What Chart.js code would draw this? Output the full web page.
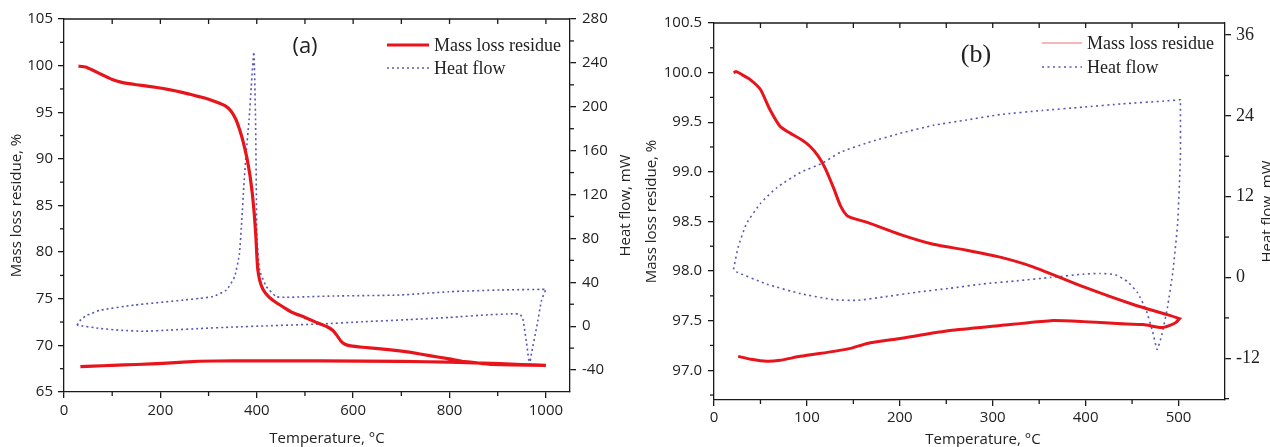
<!DOCTYPE html>
<html lang="en">
<head>
  <meta charset="UTF-8">
  <title>Mass loss and heat flow</title>
  <script src="https://cdn.jsdelivr.net/npm/chart.js"></script>
  <style>
    html, body { margin: 0; padding: 0; background: #fff; }
    body { width: 1270px; height: 447px; overflow: hidden; position: relative; }
    .panel { position: absolute; top: 0; width: 635px; height: 447px; }
    #panelA { left: 0; }
    #panelB { left: 635px; }
  </style>
</head>
<body>
  <div class="panel" id="panelA"><canvas id="chartA" width="635" height="447"></canvas></div>
  <div class="panel" id="panelB"><canvas id="chartB" width="635" height="447"></canvas></div>

  <script>
    // ---- panel (a): values ----
    const tempA_massHeat = [30, 45, 60, 80, 100, 120, 150, 180, 206, 230, 260, 282, 300, 316, 334, 346, 356, 364, 372, 380, 386, 391, 395, 398, 400, 402, 406, 413, 425, 440, 460, 475, 500, 520, 546, 558, 566, 574, 582, 595, 620, 673, 720, 758, 800, 826, 860, 885, 930, 1000];
    const massA_heat     = [99.95, 99.85, 99.5, 99.0, 98.5, 98.2, 97.95, 97.75, 97.55, 97.3, 96.95, 96.65, 96.4, 96.1, 95.7, 95.15, 94.3, 93.2, 91.8, 90.0, 88.2, 86.2, 84.0, 81.8, 79.8, 78.2, 77.0, 76.0, 75.2, 74.6, 73.95, 73.5, 73.0, 72.55, 72.0, 71.6, 71.1, 70.5, 70.15, 69.95, 69.8, 69.55, 69.25, 68.9, 68.55, 68.3, 68.1, 67.97, 67.9, 67.85];
    const tempA_massCool = [1000, 950, 905, 800, 700, 531, 400, 352, 280, 214, 150, 100, 60, 34];
    const massA_cool     = [67.85, 67.95, 68.05, 68.2, 68.28, 68.33, 68.34, 68.34, 68.3, 68.1, 67.95, 67.85, 67.78, 67.72];

    const tempA_hfHeat = [27, 35, 48, 76, 145, 248, 282, 309, 337, 354, 364, 369, 373, 378, 384, 388.5, 394, 397.5, 399, 400.3, 406, 420, 440, 461, 558, 696, 799, 905, 1000];
    const hfA_heat     = [0.9, 6, 10, 14.6, 19.2, 23.8, 25.4, 27, 33, 45, 66, 97, 127, 158, 188, 218, 250, 188, 127, 82, 51, 36, 27, 26.3, 27.5, 28.4, 31.4, 33, 33.6];
    const tempA_hfCool = [1000, 991, 981, 970, 966, 960, 952, 946, 930, 885, 800, 716, 620, 531, 421, 350, 283, 220, 165, 120, 75, 27];
    const hfA_cool     = [33.6, 23.8, -0.6, -25, -35, -15.8, 7, 11, 11.2, 10.5, 8, 6, 4, 2, 0.3, -0.8, -2.1, -3.5, -4.6, -3.8, -2.1, 0.9];

    const ticksA_x  = [0, 200, 400, 600, 800, 1000];
    const ticksA_y  = [65, 70, 75, 80, 85, 90, 95, 100, 105];
    const ticksA_y1 = [-40, 0, 40, 80, 120, 160, 200, 240, 280];

    // ---- panel (b) ----
    const tempB_massHeat = [21, 24, 30, 39, 50, 60, 71, 82, 93, 103, 112, 120, 129, 136, 143, 150, 165, 200, 236, 272, 308, 344, 398, 452, 488, 501];
    const massB_heat     = [100.0, 100.01, 99.98, 99.93, 99.83, 99.63, 99.46, 99.39, 99.33, 99.26, 99.16, 99.03, 98.83, 98.66, 98.56, 98.53, 98.49, 98.37, 98.27, 98.21, 98.14, 98.04, 97.84, 97.66, 97.56, 97.52];
    const tempB_massCool = [501, 497, 490, 482, 462, 434, 398, 362, 308, 254, 200, 165, 147, 129, 93, 71, 57, 40, 26];
    const massB_cool     = [97.52, 97.48, 97.45, 97.43, 97.46, 97.47, 97.49, 97.5, 97.45, 97.4, 97.32, 97.27, 97.22, 97.19, 97.14, 97.1, 97.09, 97.11, 97.14];

    const tempB_hfHeat = [21, 26, 35, 50, 68, 93, 117, 136, 165, 200, 236, 272, 308, 353, 397, 440, 484, 502];
    const hfB_heat     = [1.2, 4.5, 8.0, 11.0, 13.4, 15.6, 17.0, 18.6, 20.0, 21.4, 22.6, 23.4, 24.2, 24.8, 25.3, 25.8, 26.2, 26.4];
    const tempB_hfCool = [502, 502, 499, 494, 488, 482, 477, 472, 465, 456, 445, 432, 416, 398, 362, 326, 290, 254, 218, 182, 154, 129, 93, 57, 21];
    const hfB_cool     = [26.4, 18, 8, 1, -4.5, -8.5, -10.7, -8, -4.8, -2.3, -0.6, 0.4, 0.6, 0.5, 0, -0.5, -0.95, -1.6, -2.2, -2.9, -3.4, -3.3, -2.4, -1.0, 1.0];

    const ticksB_x  = [0, 100, 200, 300, 400, 500];
    const ticksB_y  = [97.0, 97.5, 98.0, 98.5, 99.0, 99.5, 100.0, 100.5];
    const ticksB_y1 = [-12, 0, 12, 24, 36];

    const SANS = "'Open Sans', sans-serif";
    const SERIF = "'Liberation Serif', serif";
    const axisColor = '#1a1a1a';
    const textColor = '#222';
    const red = '#e8141c';
    const blue = '#5858b4';

    const pts = (xs, ys) => xs.map((x, i) => ({ x: x, y: ys[i] }));

    // in-between ticks (Origin style minor ticks)
    function minors(major, lo, hi) {
      const step = major[1] - major[0];
      const out = [];
      for (let v = major[0] - step / 2; v <= hi + 1e-9; v += step) {
        if (v > lo + 1e-9 && v < hi - 1e-9) out.push(+v.toFixed(4));
      }
      return out;
    }

    function decor(o) {
      return {
        id: 'decor',
        afterDraw(chart) {
          const ctx = chart.ctx;
          const a = chart.chartArea;
          const sx = chart.scales.x, sy = chart.scales.y, sy1 = chart.scales.y1;
          const seg = (x1, y1, x2, y2) => { ctx.beginPath(); ctx.moveTo(x1, y1); ctx.lineTo(x2, y2); ctx.stroke(); };
          ctx.save();
          ctx.strokeStyle = axisColor;
          ctx.lineWidth = 1.3;
          seg(a.left, a.top, a.right, a.top);
          o.topTicks.forEach(v => { const p = sx.getPixelForValue(v); seg(p, a.top, p, a.top + 5); });
          o.xMinor.forEach(v => { const p = sx.getPixelForValue(v); seg(p, a.bottom, p, a.bottom + 4); });
          o.yMinor.forEach(v => { const p = sy.getPixelForValue(v); seg(a.left - 4, p, a.left, p); });
          o.y1Minor.forEach(v => { const p = sy1.getPixelForValue(v); seg(a.right, p, a.right + 4, p); });

          ctx.fillStyle = textColor;
          ctx.textAlign = 'center';
          ctx.textBaseline = 'middle';
          ctx.font = '15px ' + SANS;
          ctx.fillText('Temperature, \u00B0C', o.xTitleX, o.xTitleY);
          ctx.save();
          ctx.translate(o.y1TitleX, (a.top + a.bottom) / 2);
          ctx.rotate(-Math.PI / 2);
          ctx.fillText('Heat flow, mW', 0, 0);
          ctx.restore();

          ctx.font = o.labelFont;
          ctx.fillText(o.label, o.labelX, o.labelY);

          // legend
          ctx.textAlign = 'left';
          ctx.font = '18px ' + SERIF;
          chart.data.datasets.forEach((ds, i) => {
            const ly = o.legY + i * o.legGap;
            ctx.save();
            ctx.strokeStyle = i === 0 ? o.legRedColor : ds.borderColor;
            ctx.lineWidth = i === 0 ? o.legRedWidth : ds.borderWidth;
            ctx.setLineDash(ds.borderDash || []);
            seg(o.legX, ly, o.legX + o.legLen, ly);
            ctx.restore();
            ctx.fillText(ds.label, o.legX + o.legLen + 5, ly + 1);
          });
          ctx.restore();
        }
      };
    }

    function axis(pos, min, max, tickVals, size, font, pad, decimals) {
      return {
        type: 'linear',
        position: pos,
        min: min,
        max: max,
        afterBuildTicks: s => { s.ticks = tickVals.map(v => ({ value: v })); },
        afterFit: s => { if (pos === 'bottom') s.height = size; else s.width = size; },
        grid: { drawOnChartArea: false, drawTicks: true, tickLength: 6, color: axisColor, lineWidth: 1.3 },
        border: { display: true, color: axisColor, width: 1.3 },
        ticks: { color: textColor, font: font, padding: pad, maxRotation: 0, autoSkip: false,
                 callback: v => v.toFixed(decimals) }
      };
    }

    function leftTitle(text) {
      return { display: true, text: text, color: textColor, font: { family: SANS, size: 15 }, padding: { top: 8, bottom: 0 } };
    }

    // ---- chart (a) ----
    const xA = axis('bottom', 0, 1050, ticksA_x, 55, { family: SANS, size: 15 }, 4, 0);
    const yA = axis('left', 65, 105, ticksA_y, 64, { family: SANS, size: 15 }, 5, 0);
    yA.title = leftTitle('Mass loss residue, %');
    const y1A = axis('right', -60, 280, ticksA_y1, 65, { family: SANS, size: 15 }, 6, 0);

    new Chart(document.getElementById('chartA'), {
      type: 'scatter',
      data: {
        datasets: [
          { label: 'Mass loss residue', data: pts(tempA_massHeat, massA_heat).concat(pts(tempA_massCool, massA_cool)),
            showLine: true, borderColor: red, borderWidth: 3.2, pointRadius: 0, tension: 0.1, yAxisID: 'y' },
          { label: 'Heat flow', data: pts(tempA_hfHeat, hfA_heat).concat(pts(tempA_hfCool, hfA_cool)),
            showLine: true, borderColor: blue, borderWidth: 1.6, borderDash: [2, 3], pointRadius: 0, tension: 0.15, yAxisID: 'y1' }
        ]
      },
      options: {
        responsive: false, animation: false, devicePixelRatio: 1,
        layout: { padding: { top: 19, left: 0, right: 0, bottom: 0 } },
        plugins: { legend: { display: false }, tooltip: { enabled: false } },
        scales: { x: xA, y: yA, y1: y1A }
      },
      plugins: [decor({
        topTicks: [100, 200, 300, 400, 500, 600, 700, 800, 900, 1000],
        xMinor: minors(ticksA_x, 0, 1050), yMinor: minors(ticksA_y, 65, 105), y1Minor: minors(ticksA_y1, -60, 280),
        xTitleX: 327, xTitleY: 439, y1TitleX: 626,
        label: '(a)', labelFont: '22px ' + SANS, labelX: 305, labelY: 47,
        legX: 387, legY: 45, legGap: 23, legLen: 42, legRedWidth: 3, legRedColor: red
      })]
    });

    // ---- chart (b) ----
    const xB = axis('bottom', 0, 550, ticksB_x, 47, { family: SANS, size: 15 }, 3, 0);
    const yB = axis('left', 96.7, 100.5, ticksB_y, 79, { family: SANS, size: 15 }, 6, 1);
    yB.title = leftTitle('Mass loss residue, %');
    const y1B = axis('right', -18.2, 37.8, ticksB_y1, 45, { family: SERIF, size: 18 }, 5, 0);

    new Chart(document.getElementById('chartB'), {
      type: 'scatter',
      data: {
        datasets: [
          { label: 'Mass loss residue', data: pts(tempB_massHeat, massB_heat).concat(pts(tempB_massCool, massB_cool)),
            showLine: true, borderColor: red, borderWidth: 3, pointRadius: 0, tension: 0.2, yAxisID: 'y' },
          { label: 'Heat flow', data: pts(tempB_hfHeat, hfB_heat).concat(pts(tempB_hfCool, hfB_cool)),
            showLine: true, borderColor: blue, borderWidth: 1.6, borderDash: [2, 3.5], pointRadius: 0, tension: 0.15, yAxisID: 'y1' }
        ]
      },
      options: {
        responsive: false, animation: false, devicePixelRatio: 1,
        layout: { padding: { top: 23, left: 0, right: 0, bottom: 0 } },
        plugins: { legend: { display: false }, tooltip: { enabled: false } },
        scales: { x: xB, y: yB, y1: y1B }
      },
      plugins: [decor({
        topTicks: [50, 100, 150, 200, 250, 300, 350, 400, 450, 500],
        xMinor: minors(ticksB_x, 0, 550), yMinor: minors(ticksB_y, 96.7, 100.5), y1Minor: minors(ticksB_y1, -18.2, 37.8),
        xTitleX: 348, xTitleY: 440, y1TitleX: 633,
        label: '(b)', labelFont: '26px ' + SERIF, labelX: 341, labelY: 55,
        legX: 407, legY: 43, legGap: 24, legLen: 40, legRedWidth: 1.2, legRedColor: '#f07070'
      })]
    });
  </script>
</body>
</html>
